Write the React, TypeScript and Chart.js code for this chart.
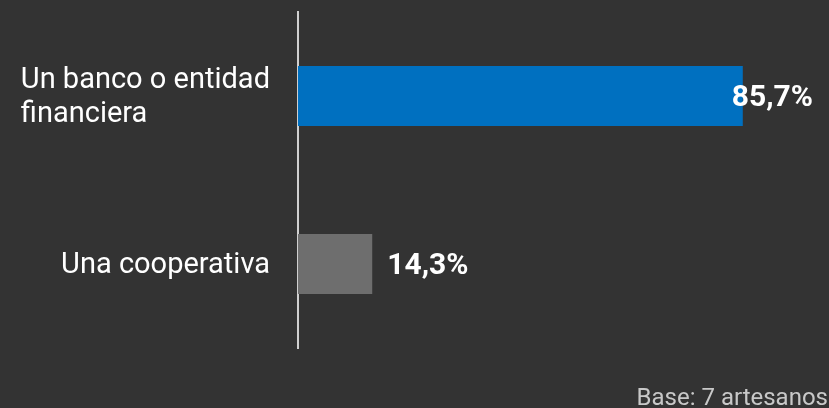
import React, { useEffect, useRef } from "react";
import { Chart, registerables } from "chart.js";

Chart.register(...registerables);

const categories: (string | string[])[] = [["Un banco o entidad", "financiera"], "Una cooperativa"];
const values: number[] = [85.7, 14.3];
const valueLabels: string[] = ["85,7%", "14,3%"];
const barColors: string[] = ["#0070C0", "#6E6E6E"];
const footerText = "Base: 7 artesanos";

const FONT = "Roboto, 'Noto Sans', sans-serif";

export default function App() {
  const ref = useRef<HTMLCanvasElement | null>(null);

  useEffect(() => {
    if (!ref.current) return;
    document.body.style.margin = "0";
    document.body.style.background = "#333333";

    const categoryLabelPlugin = {
      id: "categoryLabels",
      afterDraw(chart: any) {
        const ctx = chart.ctx;
        const yScale = chart.scales.y;
        const lineH = 34;
        ctx.save();
        ctx.font = `29px ${FONT}`;
        ctx.fillStyle = "#ffffff";
        ctx.textAlign = "left";
        ctx.textBaseline = "middle";
        categories.forEach((label, i) => {
          const lines = Array.isArray(label) ? label : [label];
          const blockW = Math.max(...lines.map((l) => ctx.measureText(l).width));
          const xRight = yScale.right - 28;
          const x = xRight - blockW;
          const yc = yScale.getPixelForTick(i) + 2;
          const y0 = yc - ((lines.length - 1) * lineH) / 2;
          lines.forEach((l, j) => ctx.fillText(l, x, y0 + j * lineH));
        });
        ctx.restore();
      },
    };

    const valuePlugin = {
      id: "valueLabels",
      afterDatasetsDraw(chart: any) {
        const ctx = chart.ctx;
        const meta = chart.getDatasetMeta(0);
        ctx.save();
        ctx.font = `bold 30px ${FONT}`;
        ctx.fillStyle = "#ffffff";
        ctx.textBaseline = "middle";
        ctx.textAlign = "left";
        meta.data.forEach((bar: any, i: number) => {
          const text = valueLabels[i];
          const w = ctx.measureText(text).width;
          let x = bar.x + 15;
          const limit = chart.chartArea.right - 4;
          if (x + w > limit) x = limit - w;
          ctx.fillText(text, x, bar.y + 2);
        });
        ctx.restore();
      },
    };

    const footerPlugin = {
      id: "footer",
      afterDraw(chart: any) {
        const ctx = chart.ctx;
        ctx.save();
        ctx.font = `24px ${FONT}`;
        ctx.fillStyle = "#c8c8c8";
        ctx.textAlign = "right";
        ctx.textBaseline = "alphabetic";
        ctx.fillText(footerText, chart.width - 1, 405);
        ctx.restore();
      },
    };

    const chart = new Chart(ref.current, {
      type: "bar",
      data: {
        labels: categories,
        datasets: [
          {
            data: values,
            backgroundColor: barColors,
            borderWidth: 0,
            barPercentage: 60 / 168,
            categoryPercentage: 1,
          },
        ],
      },
      options: {
        indexAxis: "y",
        animation: false,
        responsive: true,
        maintainAspectRatio: false,
        layout: { padding: { top: 12, bottom: 60, right: 12, left: 0 } },
        plugins: {
          legend: { display: false },
          tooltip: { enabled: false },
          title: { display: false },
        },
        scales: {
          x: { display: false, min: 0, max: 100 },
          y: {
            afterFit: (s: any) => {
              s.width = 298;
              s.paddingTop = 0;
              s.paddingBottom = 0;
            },
            grid: { display: false, drawTicks: false },
            border: { display: true, color: "#d0d0d0", width: 2 },
            ticks: { display: false },
          },
        },
      },
      plugins: [valuePlugin, footerPlugin, categoryLabelPlugin],
    });
    return () => chart.destroy();
  }, []);

  return (
    <div
      style={{
        position: "fixed",
        left: 0,
        top: 0,
        width: 829,
        height: 408,
        background: "#333333",
      }}
    >
      <canvas ref={ref} />
    </div>
  );
}
